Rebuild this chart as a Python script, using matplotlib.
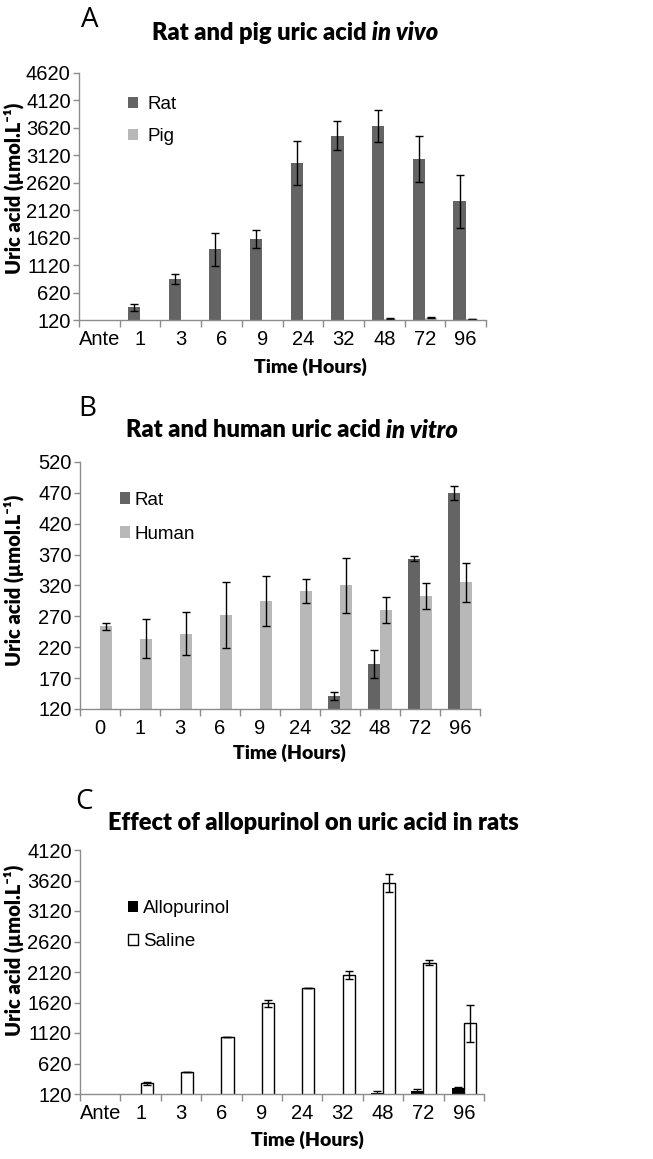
import numpy as np
import matplotlib
matplotlib.use('Agg')
import matplotlib.pyplot as plt

plt.rcParams['font.family'] = ['Liberation Sans', 'DejaVu Sans']

# ---- data ----
hours_a = ['Ante', '1', '3', '6', '9', '24', '32', '48', '72', '96']
rat_a = [np.nan, 351, 868, 1410, 1598, 2979, 3478, 3648, 3052, 2285]
rat_a_err = [np.nan, 60, 85, 300, 165, 395, 260, 290, 425, 485]
pig_a = [np.nan, np.nan, np.nan, np.nan, np.nan, np.nan, np.nan, 140, 160, 140]
pig_a_err = [np.nan, np.nan, np.nan, np.nan, np.nan, np.nan, np.nan, 8, 12, 6]

hours_b = ['0', '1', '3', '6', '9', '24', '32', '48', '72', '96']
rat_b = [np.nan, np.nan, np.nan, np.nan, np.nan, np.nan, 141, 193, 363, 470]
rat_b_err = [np.nan, np.nan, np.nan, np.nan, np.nan, np.nan, 6, 22, 4, 11]
human_b = [254, 234, 242, 272, 295, 311, 320, 281, 303, 325]
human_b_err = [6, 32, 35, 54, 41, 20, 45, 21, 21, 31]

hours_c = ['Ante', '1', '3', '6', '9', '24', '32', '48', '72', '96']
allo_c = [np.nan, np.nan, np.nan, np.nan, np.nan, np.nan, np.nan, 135, 165, 213]
allo_c_err = [np.nan, np.nan, np.nan, np.nan, np.nan, np.nan, np.nan, 35, 45, 27]
saline_c = [np.nan, 295, 486, 1054, 1606, 1858, 2071, 3574, 2273, 1278]
saline_c_err = [np.nan, 20, 0, 0, 55, 5, 60, 150, 40, 305]

W, H = 653, 1159
fig = plt.figure(figsize=(W / 100, H / 100), dpi=100)

DARK = '#646464'
LIGHT = '#b8b8b8'
AXC = '#8c8c8c'
TITLE_FONT = ['Lato', 'DejaVu Sans']
TICK_SIZE = 14.5


def make_axes(left, right, top, bottom):
    return fig.add_axes([left / W, 1 - bottom / H, (right - left) / W, (bottom - top) / H])


def style(ax, labels, yticks):
    x = np.arange(len(labels))
    ax.set_xlim(-0.5, len(labels) - 0.5)
    ax.set_ylim(yticks[0], yticks[-1])
    ax.set_yticks(yticks)
    ax.set_xticks(x)
    ax.set_xticklabels(labels)
    ax.set_xticks(np.arange(-0.5, len(labels)), minor=True)
    ax.tick_params(axis='x', which='major', length=0, pad=7, labelsize=TICK_SIZE)
    ax.tick_params(axis='x', which='minor', length=5, color=AXC, width=1)
    ax.tick_params(axis='y', length=4, color=AXC, width=1, pad=2, labelsize=TICK_SIZE)
    for s in ['top', 'right']:
        ax.spines[s].set_visible(False)
    for s in ['left', 'bottom']:
        ax.spines[s].set_color(AXC)
        ax.spines[s].set_linewidth(1)


def bars(ax, vals, errs, offset, **kw):
    x = np.arange(len(vals)) + offset
    ax.bar(x, vals, width=0.3, yerr=errs, capsize=3,
           error_kw=dict(ecolor='black', elinewidth=1, capthick=1), **kw)


def label_texts(ylab_y, xlab_x, xlab_y):
    fig.text(14 / W, 1 - ylab_y / H, 'Uric acid (µmol.L⁻¹)', rotation=90,
             fontsize=14.5, fontweight='heavy', family=TITLE_FONT,
             ha='center', va='center')
    fig.text(xlab_x / W, 1 - xlab_y / H, 'Time (Hours)', fontsize=14,
             fontweight='heavy', family=TITLE_FONT, ha='center', va='center')


def legend(ax, anchor, pad, spacing):
    ax.legend(loc='upper left', bbox_to_anchor=anchor, frameon=False,
              fontsize=13.5, handlelength=0.55, handleheight=0.55, handletextpad=pad,
              labelspacing=spacing, borderpad=0, borderaxespad=0)


def letter(x, y, s):
    fig.text(x / W, 1 - y / H, s, fontsize=20, family=['Open Sans', 'DejaVu Sans'],
             ha='left', va='center')


# ---- panel A ----
axA = make_axes(79, 486, 73, 320)
bars(axA, rat_a, rat_a_err, -0.15, color=DARK, label='Rat')
bars(axA, pig_a, pig_a_err, 0.15, color=LIGHT, label='Pig')
style(axA, hours_a, np.arange(120, 4621, 500))
legend(axA, (0.12, 0.905), 0.5, 0.8)
letter(81, 20, 'A')
label_texts(188, 310, 367)

# ---- panel B ----
axB = make_axes(80, 480, 462, 709)
bars(axB, rat_b, rat_b_err, -0.15, color=DARK, label='Rat')
bars(axB, human_b, human_b_err, 0.15, color=LIGHT, label='Human')
style(axB, hours_b, np.arange(120, 521, 50))
legend(axB, (0.10, 0.88), 0.25, 0.9)
letter(78, 409, 'B')
label_texts(580, 289, 753)

# ---- panel C ----
axC = make_axes(80, 484, 850, 1094)
bars(axC, allo_c, allo_c_err, -0.15, color='black', label='Allopurinol')
bars(axC, saline_c, saline_c_err, 0.15, color='white', edgecolor='black',
     linewidth=1, label='Saline')
style(axC, hours_c, np.arange(120, 4121, 500))
legend(axC, (0.119, 0.795), 0.25, 0.85)
letter(75, 802, 'C')
label_texts(950, 307, 1140)


# ---- titles with italic parts ----
def two_part_title(cx, y, regular, italic, size):
    fig.canvas.draw()
    r = fig.canvas.get_renderer()
    kw = dict(fontsize=size, fontweight='heavy', family=TITLE_FONT, va='center', ha='left')
    t1 = fig.text(0, 1 - y / H, regular, **kw)
    w1 = t1.get_window_extent(r).width
    w2 = 0
    t2 = None
    if italic:
        t2 = fig.text(0, 1 - y / H, ' ' + italic, style='italic', **kw)
        w2 = t2.get_window_extent(r).width
    x0 = cx - (w1 + w2) / 2
    t1.set_x(x0 / W)
    if t2 is not None:
        t2.set_x((x0 + w1) / W)


two_part_title(295, 33, 'Rat and pig uric acid', 'in vivo', 17)
two_part_title(292, 430, 'Rat and human uric acid', 'in vitro', 17)
two_part_title(313, 823, 'Effect of allopurinol on uric acid in rats', '', 17)

fig.savefig('out.png', dpi=100)
